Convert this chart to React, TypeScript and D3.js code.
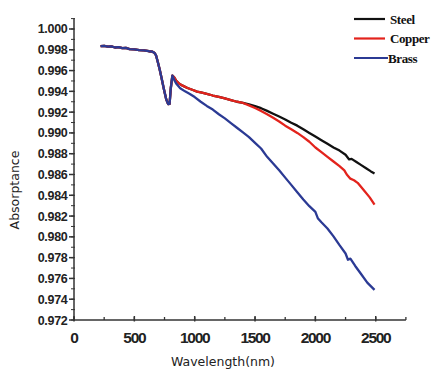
import React from "react";
import * as d3 from "d3";

// shared segment (all three curves overlap)
const sharedW = [220, 250, 280, 310, 340, 370, 400, 430, 460, 500, 540, 580, 620, 650, 665, 680, 695, 710, 725, 745, 765, 780, 792, 802, 815];
const sharedV = [0.99835, 0.99838, 0.9983, 0.99833, 0.99822, 0.99826, 0.99815, 0.99818, 0.99806, 0.99804, 0.99796, 0.99795, 0.99786, 0.99782, 0.99772, 0.99745, 0.9968, 0.9961, 0.9953, 0.9942, 0.9932, 0.99278, 0.9928, 0.9943, 0.99552];

const steelW = [830, 845, 870, 900, 940, 980, 1020, 1060, 1100, 1150, 1200, 1250, 1300, 1350, 1400, 1450, 1500, 1550, 1600, 1650, 1700, 1750, 1800, 1850, 1900, 1950, 2000, 2050, 2100, 2150, 2200, 2250, 2280, 2300, 2340, 2380, 2420, 2460, 2490];
const steelV = [0.99535, 0.99505, 0.99475, 0.99455, 0.99432, 0.99415, 0.99398, 0.99387, 0.99375, 0.9936, 0.99347, 0.99332, 0.99316, 0.993, 0.9929, 0.99275, 0.99258, 0.99238, 0.99212, 0.99185, 0.99158, 0.9913, 0.99098, 0.9907, 0.99035, 0.99, 0.98965, 0.9893, 0.98895, 0.9886, 0.9883, 0.9879, 0.98745, 0.9875, 0.9872, 0.9869, 0.9866, 0.9863, 0.9861];

const copperW = [830, 845, 870, 900, 940, 980, 1020, 1060, 1100, 1150, 1200, 1250, 1300, 1350, 1400, 1450, 1500, 1550, 1600, 1650, 1700, 1750, 1800, 1850, 1900, 1950, 2000, 2050, 2100, 2150, 2200, 2240, 2260, 2290, 2320, 2350, 2400, 2450, 2490];
const copperV = [0.99535, 0.99505, 0.99475, 0.99455, 0.99432, 0.99415, 0.99398, 0.99387, 0.99375, 0.9936, 0.99347, 0.99332, 0.99316, 0.993, 0.99288, 0.99265, 0.9924, 0.99212, 0.9918, 0.99145, 0.9911, 0.9907, 0.99035, 0.99, 0.9896, 0.98915, 0.9886, 0.98815, 0.9877, 0.98725, 0.9868, 0.9864, 0.986, 0.9856, 0.98545, 0.9852, 0.9845, 0.9838, 0.9831];

const brassW = [830, 850, 880, 920, 960, 1000, 1050, 1100, 1150, 1200, 1250, 1300, 1350, 1400, 1450, 1500, 1550, 1600, 1650, 1700, 1750, 1800, 1850, 1900, 1950, 2000, 2020, 2050, 2100, 2150, 2200, 2250, 2270, 2290, 2330, 2380, 2430, 2490];
const brassV = [0.9951, 0.9947, 0.9943, 0.994, 0.99375, 0.99345, 0.993, 0.9926, 0.99225, 0.9918, 0.9914, 0.99095, 0.9905, 0.99005, 0.9896, 0.98905, 0.9885, 0.9877, 0.98705, 0.9864, 0.9857, 0.985, 0.9843, 0.9836, 0.98295, 0.9824, 0.9818, 0.9814, 0.9808, 0.98005, 0.9792, 0.9784, 0.9778, 0.9779, 0.9772, 0.9764, 0.9756, 0.9749];

const xTicks = [0, 500, 1000, 1500, 2000, 2500];
const yTicks = [0.972, 0.974, 0.976, 0.978, 0.98, 0.982, 0.984, 0.986, 0.988, 0.99, 0.992, 0.994, 0.996, 0.998, 1.0];

const seriesNames = ["Steel", "Copper", "Brass"];
const seriesColors = ["#111111", "#e3231c", "#2b3a94"];

export default function App() {
  const W = 445, H = 378;
  const x = d3.scaleLinear().domain([0, 2750]).range([74, 405.9]);
  const y = d3.scaleLinear().domain([0.972, 1.001]).range([320, 18.6]);

  const mk = (w: number[], v: number[]) => {
    const pts: [number, number][] = [];
    sharedW.forEach((d, i) => pts.push([d, sharedV[i]]));
    w.forEach((d, i) => pts.push([d, v[i]]));
    return pts;
  };
  const series = [mk(steelW, steelV), mk(copperW, copperV), mk(brassW, brassV)];
  const line = d3.line<[number, number]>().x((d) => x(d[0])).y((d) => y(d[1])).curve(d3.curveLinear);

  const minorY = d3.range(0, 30).map((i) => 0.972 + i * 0.001);
  const minorX = d3.range(0, 12).map((i) => i * 250);
  const axisColor = "#333";

  return (
    <svg width={W} height={H} style={{ position: "absolute", left: 0, top: 0, background: "#fff" }}>
      {/* axes */}
      <line x1={x(0)} x2={x(0)} y1={y(1.001)} y2={y(0.972)} stroke={axisColor} strokeWidth={1.5} />
      <line x1={x(0)} x2={x(2750)} y1={y(0.972)} y2={y(0.972)} stroke={axisColor} strokeWidth={1.5} />
      {minorY.map((v, i) => (
        <line key={"my" + i} x1={x(0) - 3} x2={x(0) + 1} y1={y(v)} y2={y(v)} stroke={axisColor} strokeWidth={1} />
      ))}
      {yTicks.map((v, i) => (
        <g key={"yt" + i}>
          <line x1={x(0) - 5} x2={x(0)} y1={y(v)} y2={y(v)} stroke={axisColor} strokeWidth={1.5} />
          <text x={x(0) - 6.5} y={y(v)} dy="0.36em" textAnchor="end" fontFamily="'Liberation Sans', Arial, sans-serif" fontWeight="bold" fontSize={12.5} letterSpacing={-0.3} fill="#222">
            {d3.format(".3f")(v)}
          </text>
        </g>
      ))}
      {minorX.map((v, i) => (
        <line key={"mx" + i} x1={x(v)} x2={x(v)} y1={y(0.972) - 3} y2={y(0.972)} stroke={axisColor} strokeWidth={1.3} />
      ))}
      {xTicks.map((v, i) => (
        <g key={"xt" + i}>
          <line x1={x(v)} x2={x(v)} y1={y(0.972) - 4} y2={y(0.972) + 1.5} stroke={axisColor} strokeWidth={1.5} />
          <text x={x(v)} y={343} textAnchor="middle" fontFamily="'Liberation Sans', Arial, sans-serif" fontWeight="bold" fontSize={15.5} letterSpacing={-1.3} fill="#222">
            {v}
          </text>
        </g>
      ))}
      <text transform={`translate(19,190) rotate(-90)`} textAnchor="middle" fontFamily="'DejaVu Sans', sans-serif" fontSize={12.5} fill="#222">
        Absorptance
      </text>
      <text x={223} y={366} textAnchor="middle" fontFamily="'DejaVu Sans', sans-serif" fontSize={12.5} fill="#222">
        Wavelength(nm)
      </text>

      {/* curves */}
      {series.map((s, i) => (
        <path key={"s" + i} d={line(s) || ""} fill="none" stroke={seriesColors[i]} strokeWidth={2.3} strokeLinejoin="round" />
      ))}

      {/* legend */}
      {seriesNames.map((n, i) => (
        <g key={"lg" + i}>
          <line x1={354} x2={i === 2 ? 388 : 385} y1={19 + i * 19.5} y2={19 + i * 19.5} stroke={seriesColors[i]} strokeWidth={2.2} />
          <text x={i === 2 ? 388 : 390} y={19 + i * 19.5} dy="0.35em" fontFamily="'Liberation Serif', 'Times New Roman', serif" fontWeight="bold" fontSize={13} letterSpacing={-0.4} fill="#111">
            {n}
          </text>
        </g>
      ))}
    </svg>
  );
}
